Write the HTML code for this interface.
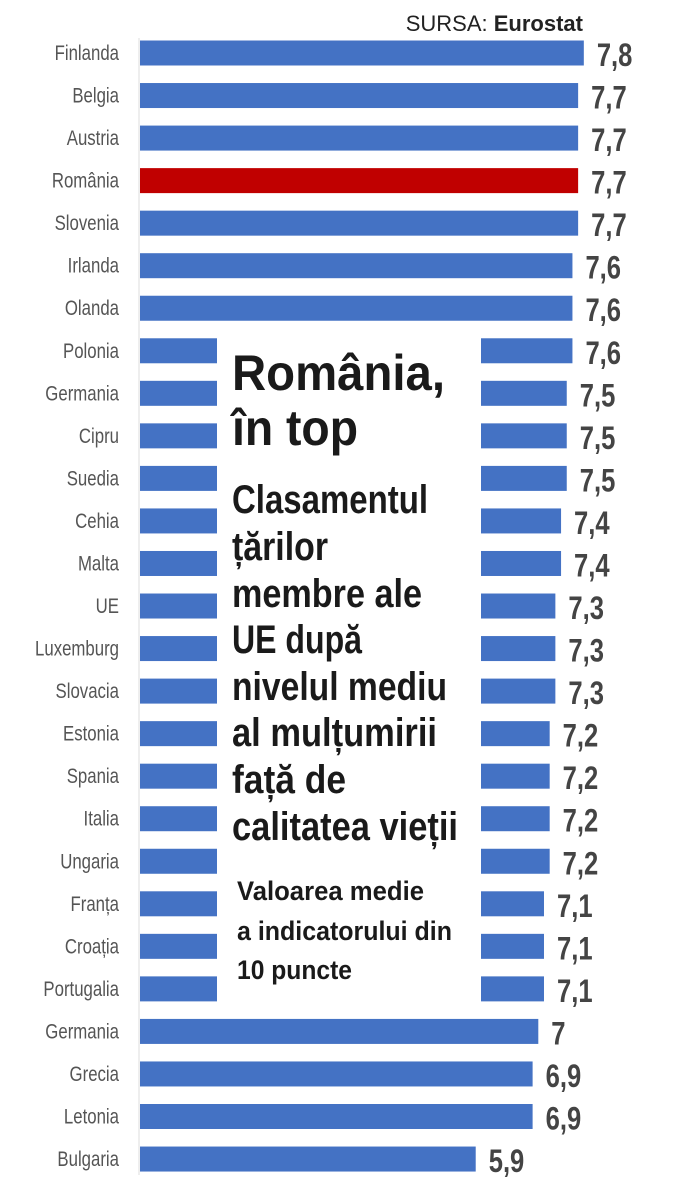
<!DOCTYPE html>
<html><head><meta charset="utf-8"><style>
html,body{margin:0;padding:0;background:#fff;}
svg{display:block;}
.lab{font-family:"Liberation Sans Narrow","Liberation Sans",sans-serif;font-size:21px;fill:#555;}
.val{font-family:"Liberation Sans Narrow","Liberation Sans",sans-serif;font-weight:bold;font-size:32px;fill:#444;}
.t1{font-family:"Liberation Sans Narrow","Liberation Sans",sans-serif;font-weight:bold;font-size:50px;fill:#1a1a1a;}
.t2{font-family:"Liberation Sans Narrow","Liberation Sans",sans-serif;font-weight:bold;font-size:40px;fill:#1a1a1a;}
.t3{font-family:"Liberation Sans Narrow","Liberation Sans",sans-serif;font-weight:bold;font-size:27px;fill:#1a1a1a;}
</style></head><body>
<svg width="699" height="1197" viewBox="0 0 699 1197" xmlns="http://www.w3.org/2000/svg">
<line x1="139" y1="38" x2="139" y2="1175" stroke="#ddd" stroke-width="1"/>
<text x="583" y="31" text-anchor="end" style="font-family:'Liberation Sans Narrow','Liberation Sans',sans-serif;font-size:22px;fill:#222">SURSA: <tspan font-weight="bold">Eurostat</tspan></text>
<g id="bars"></g>
<rect x="217" y="335" width="264" height="670" fill="#fff"/>
<text class="t1" x="232" y="390" textLength="213" lengthAdjust="spacingAndGlyphs">România,</text>
<text class="t1" x="232" y="445" textLength="126" lengthAdjust="spacingAndGlyphs">în top</text>
<text class="t2" x="232" y="513" textLength="196" lengthAdjust="spacingAndGlyphs">Clasamentul</text>
<text class="t2" x="232" y="560" textLength="96" lengthAdjust="spacingAndGlyphs">țărilor</text>
<text class="t2" x="232" y="607" textLength="190" lengthAdjust="spacingAndGlyphs">membre ale</text>
<text class="t2" x="232" y="653" textLength="130" lengthAdjust="spacingAndGlyphs">UE după</text>
<text class="t2" x="232" y="700" textLength="215" lengthAdjust="spacingAndGlyphs">nivelul mediu</text>
<text class="t2" x="232" y="746" textLength="205" lengthAdjust="spacingAndGlyphs">al mulțumirii</text>
<text class="t2" x="232" y="793" textLength="114" lengthAdjust="spacingAndGlyphs">față de</text>
<text class="t2" x="232" y="840" textLength="226" lengthAdjust="spacingAndGlyphs">calitatea vieții</text>
<text class="t3" x="237" y="900" textLength="187" lengthAdjust="spacingAndGlyphs">Valoarea medie</text>
<text class="t3" x="237" y="940" textLength="215" lengthAdjust="spacingAndGlyphs">a indicatorului din</text>
<text class="t3" x="237" y="979" textLength="115" lengthAdjust="spacingAndGlyphs">10 puncte</text>
</svg>
<script>
var d=[["Finlanda",7.8],["Belgia",7.7],["Austria",7.7],["România",7.7],["Slovenia",7.7],["Irlanda",7.6],["Olanda",7.6],["Polonia",7.6],["Germania",7.5],["Cipru",7.5],["Suedia",7.5],["Cehia",7.4],["Malta",7.4],["UE",7.3],["Luxemburg",7.3],["Slovacia",7.3],["Estonia",7.2],["Spania",7.2],["Italia",7.2],["Ungaria",7.2],["Franța",7.1],["Croația",7.1],["Portugalia",7.1],["Germania",7],["Grecia",6.9],["Letonia",6.9],["Bulgaria",5.9]];
var g=document.getElementById("bars"),h="";
d.forEach(function(r,i){var c=53+i*42.54,w=r[1]*56.9;
h+='<rect x="140" y="'+(c-12.5)+'" width="'+w+'" height="25" fill="'+(r[0]=="România"?"#c00000":"#4472c4")+'"/>';
h+='<text class="lab" transform="translate(119,'+(c+7)+') scale(0.8,1)" text-anchor="end">'+r[0]+'</text>';
h+='<text class="val" transform="translate('+(140+w+13)+','+(c+13)+') scale(0.8,1)">'+String(r[1]).replace(".",",")+'</text>';});
g.innerHTML=h;
</script>
</body></html>
